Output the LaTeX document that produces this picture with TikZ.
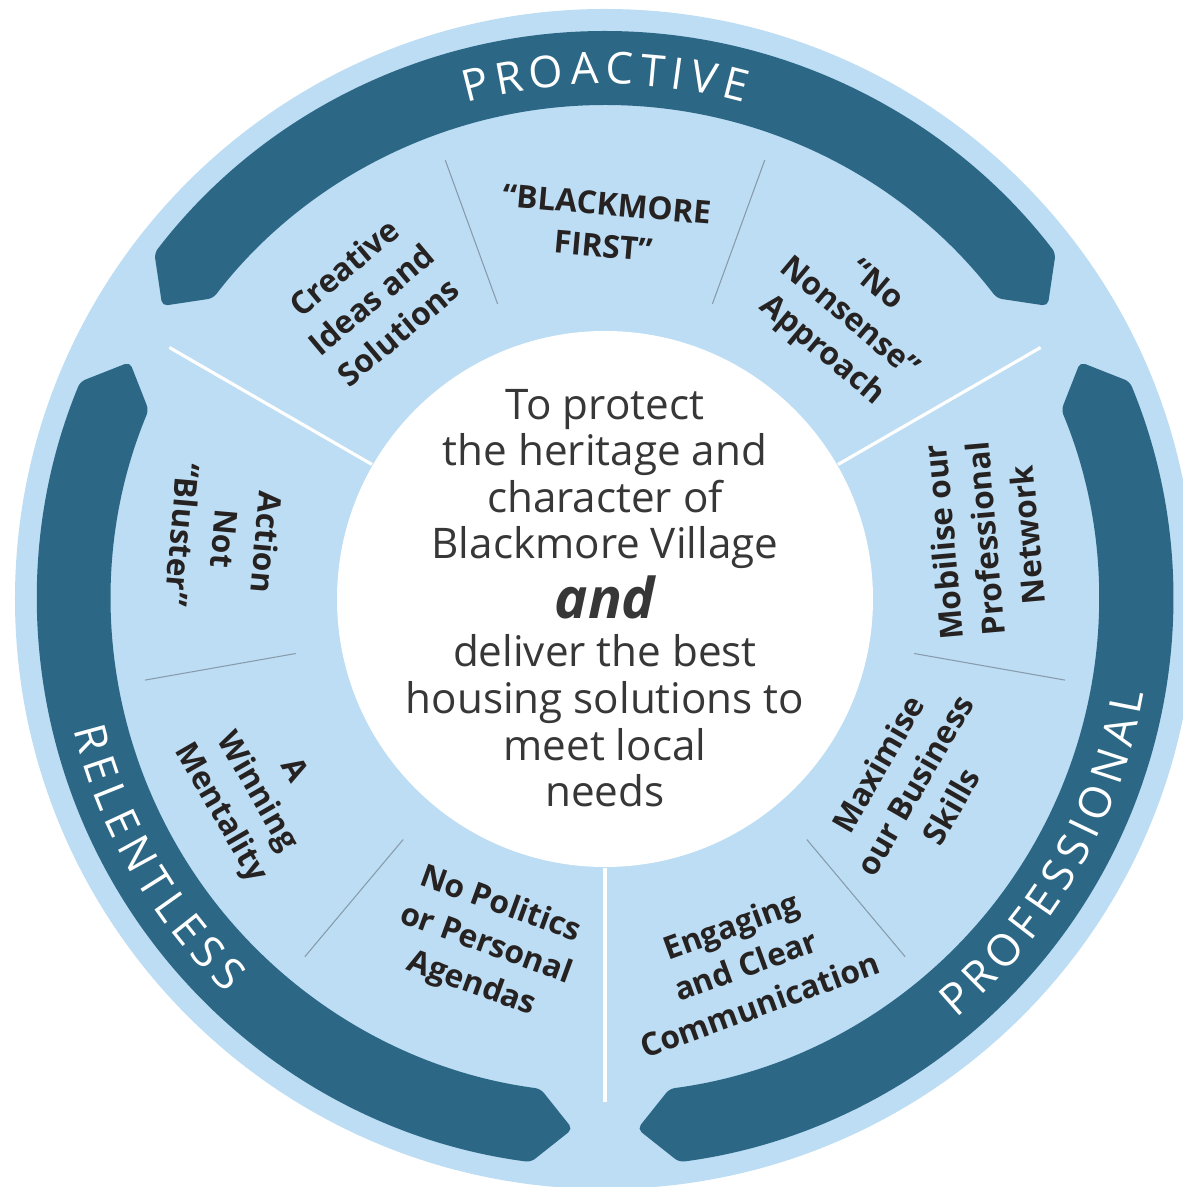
\documentclass[tikz,border=0pt]{standalone}
\usepackage{fontspec}
\setmainfont{Open Sans}

\definecolor{ringblue}{RGB}{188,221,243}
\definecolor{bandblue}{RGB}{44,104,134}
\definecolor{labeltext}{RGB}{38,34,34}
\definecolor{missiontext}{RGB}{55,55,55}
\definecolor{dividergrey}{RGB}{135,155,172}

% Letter-spaced words set round an arc, one node per letter
\newdimen\wordwd
\newdimen\letterwd
\newdimen\runpos
\newcommand{\bandsize}{\fontsize{25}{25}\selectfont}
\newcommand{\tracking}{3.6pt}
\newcommand{\measureletter}[1]{%
  \pgfinterruptpicture\setbox0=\hbox{\normalfont\bandsize #1}\global\letterwd=\wd0\relax\endpgfinterruptpicture}
% #1 name, #2 centre angle, #3 baseline radius, #4 1 = clockwise / -1 = anticlockwise, #5 letters
\newcommand{\arcword}[5]{%
  \global\wordwd=0pt
  \foreach \ch in {#5} {%
    \measureletter{\ch}%
    \global\advance\wordwd by \letterwd
    \global\advance\wordwd by \tracking
  }%
  \global\advance\wordwd by -\tracking
  \global\runpos=-0.5\wordwd
  \foreach \ch [count=\i] in {#5} {%
    \measureletter{\ch}%
    \pgfmathsetmacro{\letterang}{#2-(#4)*(\the\runpos+0.5*\the\letterwd)/(#3*28.45274)*57.29578}%
    \pgfmathsetmacro{\letterrot}{\letterang-(#4)*90}%
    \node (#1\i) at (\letterang:#3) [bandletter, rotate=\letterrot] {\ch};
    \global\advance\runpos by \letterwd
    \global\advance\runpos by \tracking
  }%
}

\tikzset{
  band/.style={fill=bandblue, rounded corners=3pt},
  bandletter/.style={anchor=base, inner sep=0pt, text=white, font=\bandsize},
  seglabel/.style={align=center, text=labeltext, inner sep=0pt,
    font=\bfseries\fontsize{18}{24}\selectfont},
  greydivider/.style={draw=dividergrey, line width=0.6pt},
  whitedivider/.style={draw=white, line width=1.8pt}
}

\begin{document}
\begin{tikzpicture}
    \useasboundingbox (-12.1,-11.76) rectangle (11.54,11.98);

    % Light blue disc and white centre
    \fill[ringblue] (0,0) circle (11.8);
    \fill[white] (0,0) circle (5.36);

    % Three dark bands with pointed ends
    \foreach \c in {90,-30,210} {
        \fill[band] ({\c+52.5}:11.36) arc[start angle=\c+52.5, end angle=\c-52.5, radius=11.36]
            -- ({\c-56.5}:10.62) -- ({\c-52.5}:9.88)
            arc[start angle=\c-52.5, end angle=\c+52.5, radius=9.88]
            -- ({\c+56.5}:10.62) -- cycle;
    }

    % Band titles
    \arcword{proactive}{90}{10.3}{1}{P,R,O,A,C,T,I,V,E}
    \arcword{relentless}{210}{10.94}{-1}{R,E,L,E,N,T,L,E,S,S}
    \arcword{professional}{-30}{10.94}{-1}{P,R,O,F,E,S,S,I,O,N,A,L}

    % Dividers between the segments
    \foreach \a in {-50,-10,70,110,190,230} {
        \draw[greydivider] (\a:6.28) -- (\a:9.34);
    }
    \foreach \a in {30,150,270} {
        \draw[whitedivider] (\a:5.38) -- (\a:10.06);
    }

    % Segment labels
    \foreach \ang/\rad/\rot/\name/\txt in {
        128/7.6/40/creative/{Creative\\Ideas and\\Solutions},
        90/7.48/-5/first/{“BLACKMORE\\FIRST”},
        49/7.42/-40/nonsense/{“No\\Nonsense”\\Approach},
        9/7.7/95/network/{Mobilise our\\Professional\\Network},
        -31/7.22/60/business/{Maximise\\our Business\\Skills},
        -69/7.84/20/communication/{Engaging\\and Clear\\Communication},
        -109/7.32/-20/politics/{No Politics\\or Personal\\Agendas},
        -151/7.98/-60/winning/{A\\Winning\\Mentality},
        171/7.7/-95/action/{Action\\Not\\“Bluster”}} {
        \node (\name) at (\ang:\rad) [seglabel, rotate=\rot] {\txt};
    }

    % Mission statement in the middle
    \node (mission) at (0,0.02) [align=center, text=missiontext,
        font=\fontsize{24}{26.5}\selectfont] {To protect\\the heritage and\\character of\\Blackmore Village\\[3pt]
        {\fontsize{32}{32}\selectfont\bfseries\itshape and}\\[1pt]deliver the best\\housing solutions to\\meet local\\needs};
\end{tikzpicture}
\end{document}
